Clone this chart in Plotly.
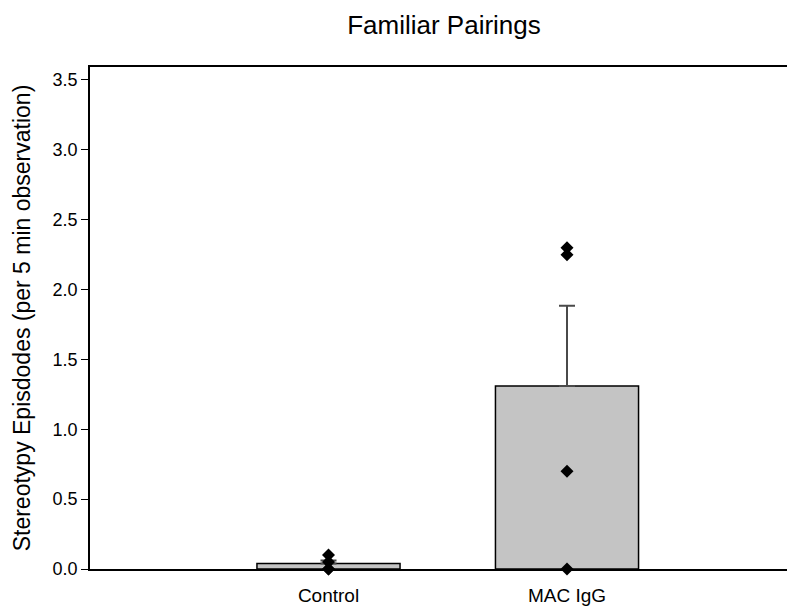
import plotly.graph_objects as go

categories = ["Control", "MAC IgG"]
means = [0.04, 1.31]
sem_upper = [0.02, 0.574]

control_points = [0.10, 0.05, 0.0, 0.0]
mac_points = [2.30, 2.25, 0.70, 0.0]

fig = go.Figure()
fig.add_trace(go.Bar(
    x=categories, y=means, width=0.6,
    marker=dict(color="#c4c4c4", line=dict(color="black", width=1.5)),
    error_y=dict(type="data", array=sem_upper, arrayminus=[0, 0], symmetric=False,
                 color="#4a4a4a", thickness=2, width=8),
    showlegend=False,
))
pts_x = [categories[0]] * len(control_points) + [categories[1]] * len(mac_points)
pts_y = control_points + mac_points
fig.add_trace(go.Scatter(
    x=pts_x, y=pts_y, mode="markers",
    marker=dict(symbol="diamond", size=10, color="black"),
    showlegend=False, cliponaxis=False,
))

fig.update_layout(
    width=787, height=602,
    margin=dict(l=82, r=0, t=59, b=41),
    paper_bgcolor="white", plot_bgcolor="white",
    font=dict(family="Liberation Sans, Arial, sans-serif", color="black", size=18),
    title=dict(text="Familiar Pairings", x=0.554, xanchor="center", xref="container",
               y=0.972, yref="container", yanchor="middle", font=dict(size=26)),
    xaxis=dict(type="category", categoryorder="array", categoryarray=categories,
               range=[-1, 1.956], showline=True, linecolor="black", linewidth=1.5,
               mirror=True, ticks="outside", ticklen=8, tickcolor="rgba(0,0,0,0)",
               showgrid=False, zeroline=False, tickfont=dict(size=19)),
    yaxis=dict(range=[0, 3.593], tickvals=[0, 0.5, 1, 1.5, 2, 2.5, 3, 3.5],
               tickformat=".1f", showline=True, linecolor="black", linewidth=1.5,
               ticks="outside", ticklen=7, tickcolor="black", tickwidth=1.2,
               showgrid=False, zeroline=False, tickfont=dict(size=18),
               title=dict(text="Stereotypy Episdodes (per 5 min observation)",
                          font=dict(size=23), standoff=16)),
)

fig.write_html("out.html")
